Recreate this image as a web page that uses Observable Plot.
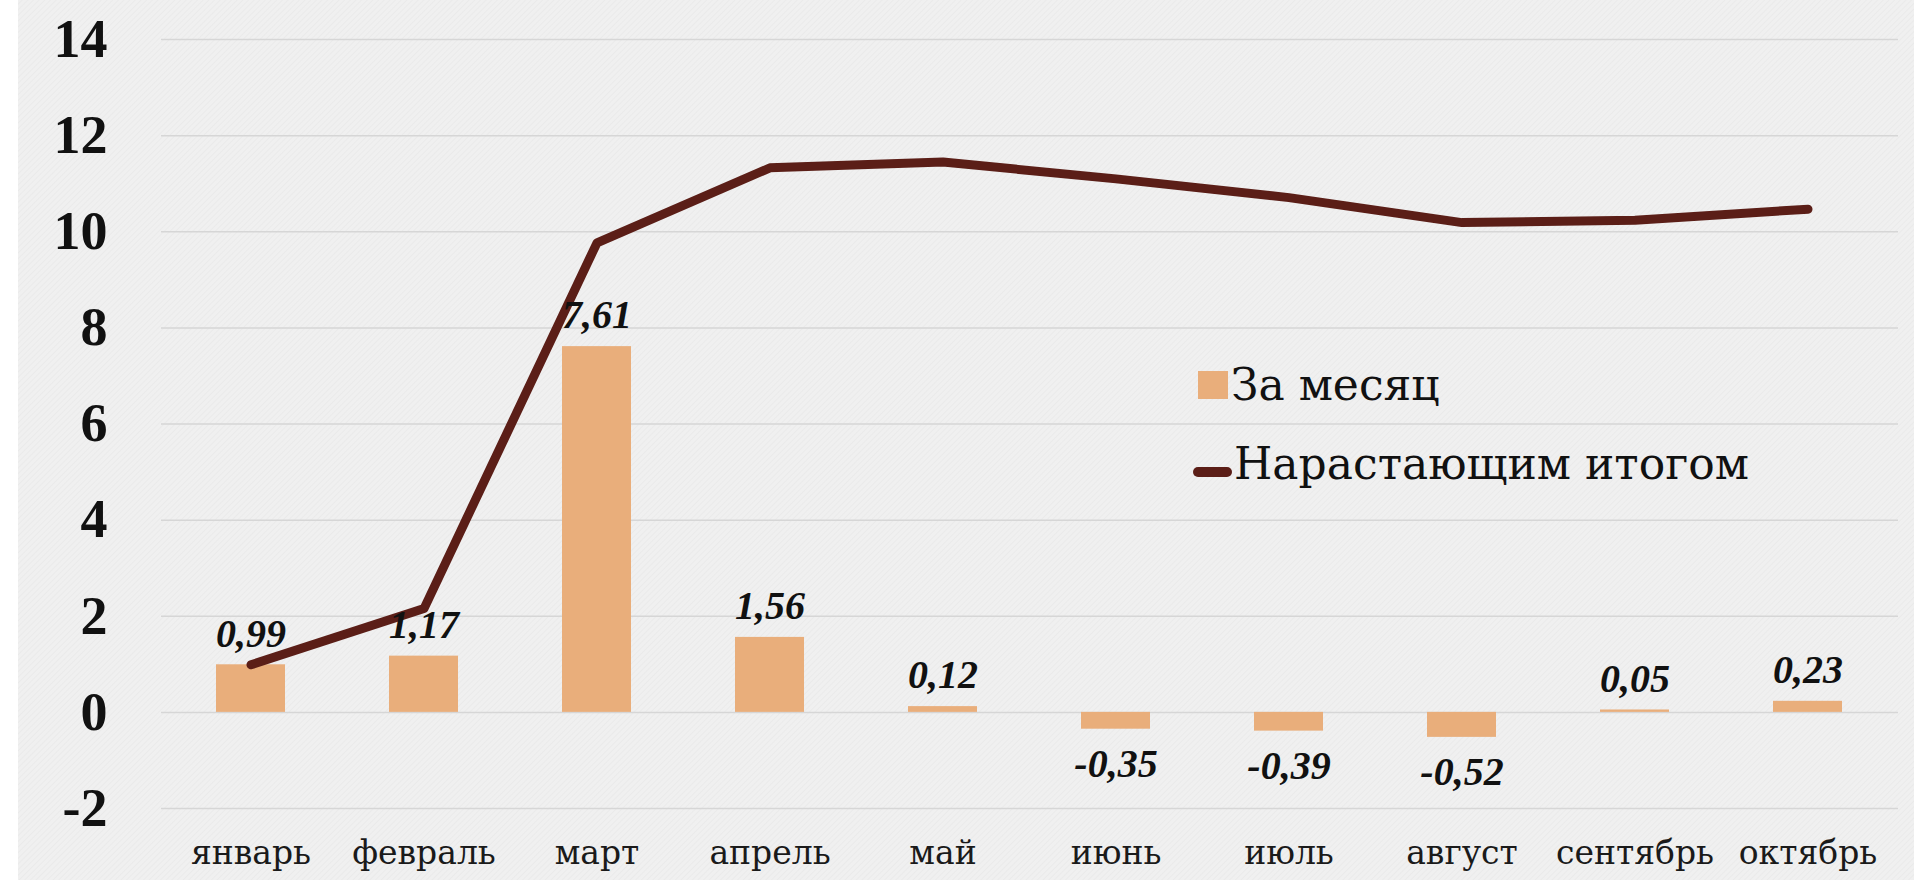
<!DOCTYPE html>
<html>
<head>
<meta charset="utf-8">
<script src="https://cdn.jsdelivr.net/npm/d3@7"></script>
<script src="https://cdn.jsdelivr.net/npm/@observablehq/plot@0.6"></script>
<style>
  html, body { margin: 0; padding: 0; background: #ffffff; }
  #wrap { position: relative; width: 1914px; height: 880px; overflow: hidden; background: #ffffff; }
  #bg { position: absolute; left: 18px; top: 0; width: 1896px; height: 880px;
    background: repeating-linear-gradient(135deg, #f0f0f0 0px, #f0f0f0 2px, #eaeaea 3px, #f0f0f0 4px); }
  #chart { position: absolute; left: 0; top: 0; }
  .lg { position: absolute; font-family: "DejaVu Serif"; font-size: 44px; color: #111; line-height: 1; white-space: nowrap; }
  .sw-bar { position: absolute; left: 1198px; top: 371px; width: 30px; height: 28px; background: #E9AE7B; }
  .sw-line { position: absolute; left: 1193px; top: 467px; width: 39px; height: 10px; border-radius: 5px; background: #5B1E17; }
</style>
</head>
<body>
<div id="wrap">
  <div id="bg"></div>
  <div id="chart"></div>
  <div class="sw-bar"></div>
  <div class="lg" id="lg1" style="left:1231px; top:363px;">За месяц</div>
  <div class="sw-line"></div>
  <div class="lg" id="lg2" style="left:1234px; top:442px;">Нарастающим итогом</div>
</div>
<script>
const months = ["январь","февраль","март","апрель","май","июнь","июль","август","сентябрь","октябрь"];
const monthly = [0.99, 1.17, 7.61, 1.56, 0.12, -0.35, -0.39, -0.52, 0.05, 0.23];
const cumulative = [0.99, 2.16, 9.77, 11.33, 11.45, 11.10, 10.71, 10.19, 10.24, 10.47];
const yTicks = [-2, 0, 2, 4, 6, 8, 10, 12, 14];

const data = months.map((m, i) => ({month: m, monthly: monthly[i], cumulative: cumulative[i]}));
const fmt = v => v.toFixed(2).replace(".", ",");
const serif = "Liberation Serif";
const cyr = "DejaVu Serif";
const labelFont = {fontFamily: serif, fontWeight: "bold", fontStyle: "italic", fontSize: 40, fill: "#111"};

const chart = Plot.plot({
  width: 1914,
  height: 880,
  marginLeft: 161,
  marginRight: 16,
  marginTop: 39,
  marginBottom: 72,
  style: {background: "transparent", fontFamily: serif, color: "#111", overflow: "visible"},
  x: {type: "band", domain: months, paddingInner: 0.6, paddingOuter: 0.3},
  y: {domain: [-2, 14]},
  marks: [
    Plot.gridY(yTicks, {stroke: "#d6d6d6", strokeOpacity: 1, strokeWidth: 1.5}),
    Plot.axisY(yTicks, {tickSize: 0, tickPadding: 54, fontSize: 54, fontWeight: "bold", fontFamily: serif, tickFormat: d => String(d), label: null}),
    Plot.axisX({tickSize: 0, tickPadding: 32, fontSize: 33, fontFamily: cyr, fill: "#1a1a1a", label: null}),
    Plot.barY(data, {x: "month", y: "monthly", fill: "#E9AE7B"}),
    Plot.lineY(data, {x: "month", y: "cumulative", stroke: "#5B1E17", strokeWidth: 9, strokeLinecap: "round", strokeLinejoin: "round"}),
    Plot.text(data.filter(d => d.monthly >= 0), {x: "month", y: "monthly", text: d => fmt(d.monthly), dy: -31, ...labelFont}),
    Plot.text(data.filter(d => d.monthly < 0), {x: "month", y: "monthly", text: d => fmt(d.monthly), dy: 35, ...labelFont})
  ]
});
document.getElementById("chart").appendChild(chart);
</script>
</body>
</html>
